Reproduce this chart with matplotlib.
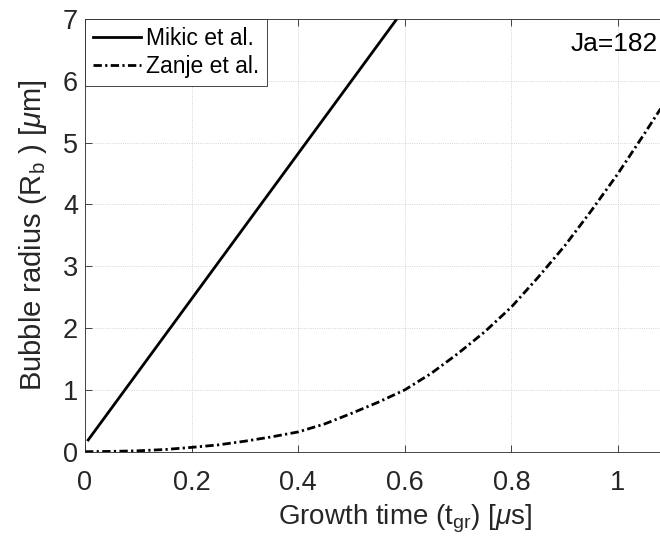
import numpy as np
import matplotlib.pyplot as plt

plt.rcParams['font.family'] = ['Liberation Sans', 'DejaVu Sans']
plt.rcParams['mathtext.fontset'] = 'custom'
plt.rcParams['mathtext.rm'] = 'Liberation Sans'
plt.rcParams['mathtext.it'] = 'Liberation Sans:italic'

# ---- data ----
mikic_t = [0.006, 0.585]
mikic_r = [0.19, 7.0]

zanje_t = [0.0, 0.05, 0.1, 0.15, 0.2, 0.25, 0.3, 0.35, 0.4, 0.45, 0.5,
           0.55, 0.6, 0.65, 0.7, 0.75, 0.8, 0.85, 0.9, 0.95, 1.0, 1.05, 1.08]
zanje_r = [0.0, 0.005, 0.015, 0.035, 0.07, 0.11, 0.17, 0.24, 0.32, 0.45, 0.62,
           0.80, 1.0, 1.27, 1.59, 1.94, 2.34, 2.82, 3.33, 3.9, 4.5, 5.15, 5.55]

xticks = [0, 0.2, 0.4, 0.6, 0.8, 1.0]
xticklabels = ['0', '0.2', '0.4', '0.6', '0.8', '1']
yticks = [0, 1, 2, 3, 4, 5, 6, 7]

# axes extends past the right border of the picture (cropped like the original)
fig = plt.figure(figsize=(6.6, 5.45), dpi=100)
ax = fig.add_axes([85 / 660, (545 - 451.7) / 545, 1.2 * 533 / 660, (451.7 - 19) / 545])

ax.plot(mikic_t, mikic_r, color='black', lw=2.0, ls='-', label='Mikic et al.')
ax.plot(zanje_t, zanje_r, color='black', lw=2.0, ls=(0, (3, 1.2, 0.8, 1.2)),
        dash_capstyle='butt', label='Zanje et al.')

ax.set_xlim(0, 1.2)
ax.set_ylim(0, 7)
ax.set_xticks(xticks)
ax.set_xticklabels(xticklabels)
ax.set_yticks(yticks)

gray = '#262626'
ax.tick_params(direction='in', length=5, width=0.6, colors=gray, labelsize=19.5,
               top=True, right=True)
ax.tick_params(axis='x', pad=13)
ax.tick_params(axis='y', pad=5)
for s in ax.spines.values():
    s.set_color(gray)
    s.set_linewidth(0.6)
ax.grid(True, color='#b0b0b0', lw=0.6, ls=':', alpha=0.7)

ax.set_xlabel(r'Growth time (t$_{\rm gr}$) [$\mu$s]', fontsize=20, color=gray, labelpad=5)
ax.set_ylabel(r'Bubble radius (R$_{\rm b}$ ) [$\mu$m]', fontsize=21, color=gray, labelpad=10)

ax.text(0.912, 6.6, 'Ja=182', fontsize=19, color='black', va='center', ha='left')

leg = ax.legend(loc='upper left', fontsize=16.5, frameon=True, fancybox=False,
                borderaxespad=0, handlelength=2.1, handletextpad=0.2,
                borderpad=0.35, labelspacing=0.22, framealpha=1)
leg.get_frame().set_edgecolor(gray)
leg.get_frame().set_linewidth(0.6)

fig.savefig('out.png', dpi=100)
